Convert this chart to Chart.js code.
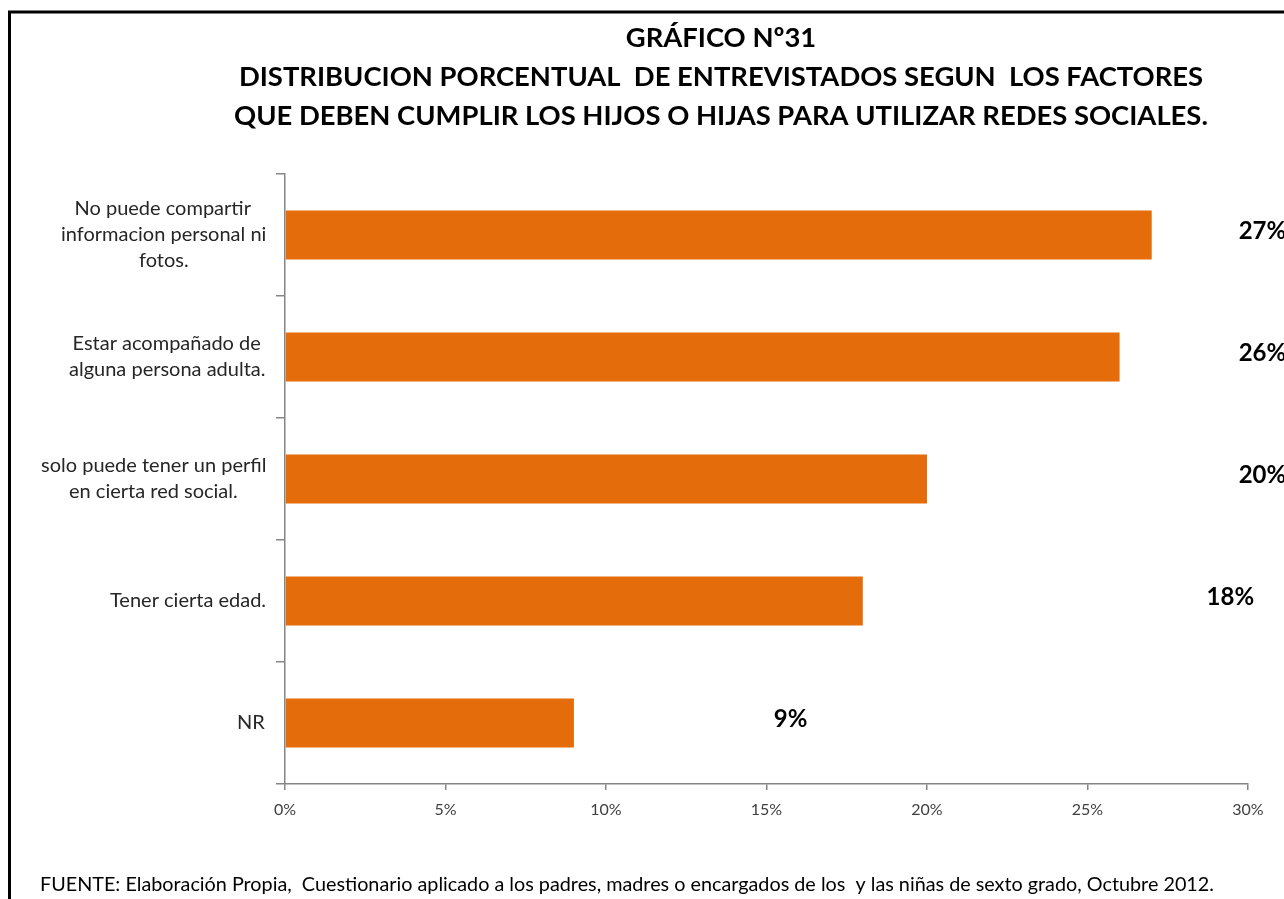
<!DOCTYPE html>
<html>
<head>
<meta charset="utf-8">
<script src="https://cdn.jsdelivr.net/npm/chart.js@4"></script>
<style>
  html, body { margin: 0; padding: 0; background: #fff; }
  #wrap { width: 1284px; height: 899px; position: relative; }
</style>
</head>
<body>
<div id="wrap"><canvas id="chart" width="1284" height="899"></canvas></div>
<script>
const TITLE_LINES = [
  'GRÁFICO Nº31',
  'DISTRIBUCION PORCENTUAL  DE ENTREVISTADOS SEGUN  LOS FACTORES',
  'QUE DEBEN CUMPLIR LOS HIJOS O HIJAS PARA UTILIZAR REDES SOCIALES.',
];
const FOOTER = 'FUENTE: Elaboración Propia,  Cuestionario aplicado a los padres, madres o encargados de los  y las niñas de sexto grado, Octubre 2012.';

const categories = [
  ['No puede compartir', 'informacion personal ni', 'fotos.'],
  ['Estar acompañado de', 'alguna persona adulta.'],
  ['solo puede tener un perfil', 'en cierta red social.'],
  ['Tener cierta edad.'],
  ['NR'],
];
const values = [27, 26, 20, 18, 9];
const valueLabels = ['27%', '26%', '20%', '18%', '9%'];
const xTicks = [0, 5, 10, 15, 20, 25, 30];

// where each data label sits, in axis units (the original places them loosely)
const labelAt = [30.45, 30.45, 30.45, 29.45, 15.75];

const FONT = 'Lato, "Open Sans", sans-serif';
const LABEL_FONT = '20px ' + FONT;
const BAR_COLOR = '#E46C0A';
const AXIS_COLOR = '#868686';

// measureText disagreed with what got painted, so find the ink extent by drawing it
const scratch = document.createElement('canvas');
scratch.width = 600;
scratch.height = 40;
function inkExtent(text, font) {
  const c = scratch.getContext('2d', { willReadFrequently: true });
  c.clearRect(0, 0, scratch.width, scratch.height);
  c.font = font;
  c.textBaseline = 'middle';
  c.textAlign = 'left';
  c.fillStyle = '#000';
  c.fillText(text, 20, 20);
  const data = c.getImageData(0, 0, scratch.width, scratch.height).data;
  let minX = scratch.width;
  let maxX = -1;
  for (let y = 0; y < scratch.height; y++) {
    for (let x = 0; x < scratch.width; x++) {
      if (data[(y * scratch.width + x) * 4 + 3] > 40) {
        if (x < minX) minX = x;
        if (x > maxX) maxX = x;
      }
    }
  }
  return { left: minX - 20, width: maxX - minX + 1 };
}

const decorPlugin = {
  id: 'decor',
  beforeDraw(chart) {
    const ctx = chart.ctx;
    ctx.save();
    ctx.fillStyle = '#fff';
    ctx.fillRect(0, 0, chart.width, chart.height);
    ctx.strokeStyle = '#000';
    ctx.lineWidth = 3;
    ctx.beginPath();
    ctx.moveTo(9.5, chart.height + 5);
    ctx.lineTo(9.5, 12);
    ctx.lineTo(chart.width + 5, 12);
    ctx.stroke();
    ctx.restore();
  },
  afterDraw(chart) {
    const ctx = chart.ctx;
    const yScale = chart.scales.y;
    const xScale = chart.scales.x;
    ctx.save();

    // title
    ctx.fillStyle = '#000';
    ctx.textAlign = 'center';
    ctx.textBaseline = 'middle';
    ctx.font = 'bold 27.4px ' + FONT;
    const titleY = [38, 77, 116];
    TITLE_LINES.forEach((line, i) => ctx.fillText(line, 721, titleY[i]));

    // category labels: block right-aligned to the axis, lines centred inside it
    ctx.font = LABEL_FONT;
    ctx.fillStyle = '#262626';
    ctx.textAlign = 'left';
    const lineH = 26;
    categories.forEach((lines, i) => {
      const cy = yScale.getPixelForTick(i);
      const ext = lines.map((l) => inkExtent(l, LABEL_FONT));
      const blockW = Math.max(...ext.map((e) => e.width));
      const cx = 265 - blockW / 2;
      lines.forEach((l, j) => {
        const x0 = cx - ext[j].width / 2 - ext[j].left;
        ctx.fillText(l, x0, cy + (j - (lines.length - 1) / 2) * lineH);
      });
    });

    // value labels
    ctx.textAlign = 'center';
    ctx.font = 'bold 24px ' + FONT;
    ctx.fillStyle = '#000';
    valueLabels.forEach((text, i) => {
      const cy = yScale.getPixelForTick(i) - 4;
      ctx.fillText(text, xScale.getPixelForValue(labelAt[i]), cy);
    });

    // footer
    ctx.font = '19.8px ' + FONT;
    ctx.textAlign = 'left';
    ctx.fillStyle = '#000';
    ctx.fillText(FOOTER, 40, 885);
    ctx.restore();
  },
};

function drawChart() {
  new Chart(document.getElementById('chart'), {
    type: 'bar',
    data: {
      labels: categories,
      datasets: [{
        data: values,
        backgroundColor: BAR_COLOR,
        barPercentage: 0.4,
        categoryPercentage: 1,
      }],
    },
    options: {
      indexAxis: 'y',
      responsive: false,
      animation: false,
      layout: { padding: { left: 0, right: 36, top: 174, bottom: 0 } },
      plugins: {
        legend: { display: false },
        tooltip: { enabled: false },
      },
      scales: {
        x: {
          min: 0,
          max: 30,
          afterBuildTicks(scale) {
            scale.ticks = xTicks.map((v) => ({ value: v }));
          },
          afterFit(scale) { scale.height = 899 - 784; },
          border: { color: AXIS_COLOR, width: 1.5 },
          grid: { drawOnChartArea: false, color: AXIS_COLOR, tickLength: 6, lineWidth: 1.5 },
          ticks: {
            color: '#404040',
            font: { family: FONT, size: 16 },
            padding: 10,
            callback: (v) => v + '%',
          },
        },
        y: {
          afterFit(scale) { scale.width = 285; },
          border: { color: AXIS_COLOR, width: 1.5 },
          grid: { drawOnChartArea: false, color: AXIS_COLOR, tickLength: 9, offset: true, lineWidth: 1.5 },
          ticks: { display: false },
        },
      },
    },
    plugins: [decorPlugin],
  });
}

Promise.all([
  document.fonts.load('20px Lato'),
  document.fonts.load('bold 20px Lato'),
]).then(drawChart, drawChart);
</script>
</body>
</html>
